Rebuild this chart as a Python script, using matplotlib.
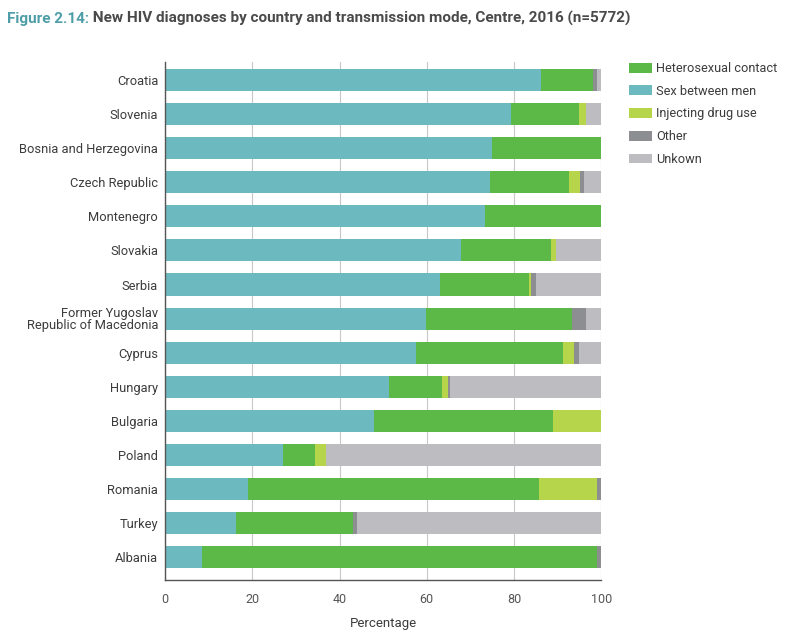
import matplotlib
matplotlib.use("Agg")
import matplotlib.pyplot as plt
import numpy as np

plt.rcParams['font.family'] = ['Roboto', 'DejaVu Sans']

countries = ["Croatia", "Slovenia", "Bosnia and Herzegovina", "Czech Republic", "Montenegro",
             "Slovakia", "Serbia", "Former Yugoslav\nRepublic of Macedonia", "Cyprus", "Hungary",
             "Bulgaria", "Poland", "Romania", "Turkey", "Albania"]
sex_between_men = [86.1, 79.3, 74.9, 74.5, 73.3, 67.8, 63.1, 59.8, 57.5, 51.3, 47.8, 27.1, 18.9, 16.3, 8.4]
heterosexual =    [12.0, 15.5, 25.1, 18.1, 26.7, 20.6, 20.3, 33.6, 33.8, 12.1, 41.1, 7.2, 66.8, 26.7, 90.6]
injecting =       [0.0, 1.7, 0.0, 2.6, 0.0, 1.3, 0.4, 0.0, 2.5, 1.4, 11.1, 2.5, 13.3, 0.2, 0.0]
other =           [0.9, 0.0, 0.0, 0.9, 0.0, 0.0, 1.3, 3.1, 1.1, 0.5, 0.0, 0.0, 1.0, 0.9, 1.0]
unknown =         [1.0, 3.5, 0.0, 3.9, 0.0, 10.3, 14.9, 3.5, 5.1, 34.7, 0.0, 63.2, 0.0, 55.9, 0.0]

series = [("Sex between men", sex_between_men, "#6cb9c0"),
          ("Heterosexual contact", heterosexual, "#5db947"),
          ("Injecting drug use", injecting, "#b7d54b"),
          ("Other", other, "#8d8e91"),
          ("Unkown", unknown, "#bdbdc1")]

fig = plt.figure(figsize=(7.9, 6.32), dpi=100)
ax = fig.add_axes([0.209, 0.082, 0.552, 0.820])

y = np.arange(len(countries))
left = np.zeros(len(countries))
handles = {}
for name, vals, col in series:
    vals = np.array(vals)
    b = ax.barh(y, vals, left=left, height=0.65, color=col, label=name, zorder=2)
    handles[name] = b
    left += vals

ax.set_ylim(len(countries) - 1 + 0.675, -0.53)
ax.set_xlim(0, 100)
ax.set_yticks(y)
ax.set_yticklabels(countries, fontsize=9.3, color="#3c3c3c", linespacing=0.9)
ax.set_xticks([0, 20, 40, 60, 80, 100])
ax.set_xticklabels(["0", "20", "40", "60", "80", "100"], fontsize=9, color="#555555")
ax.tick_params(axis='y', length=0, pad=5)
ax.tick_params(axis='x', length=0, pad=9)
ax.grid(axis='x', color="#c8c8c8", linewidth=0.8, zorder=0)
ax.set_axisbelow(True)
for s in ["top", "right"]:
    ax.spines[s].set_visible(False)
for s in ["left", "bottom"]:
    ax.spines[s].set_color("#555555")
    ax.spines[s].set_linewidth(1.0)
ax.set_xlabel("Percentage", fontsize=9.5, color="#3c3c3c", labelpad=8)

order = ["Heterosexual contact", "Sex between men", "Injecting drug use", "Other", "Unkown"]
leg = fig.legend([handles[n] for n in order], order, loc="upper left",
                 bbox_to_anchor=(0.782, 0.92), frameon=False, fontsize=9.2,
                 handlelength=1.75, handleheight=0.8, handletextpad=0.35, labelspacing=0.76)
for t in leg.get_texts():
    t.set_color("#3c3c3c")

t1 = fig.text(0.009, 0.963, "Figure 2.14:", fontsize=11, fontweight="bold", color="#4e9ea8", va="baseline")
ax.annotate(" New HIV diagnoses by country and transmission mode, Centre, 2016 (n=5772)",
            xy=(1, 0), xycoords=t1, va="bottom", ha="left",
            fontsize=11, fontweight="bold", color="#4a4a4a", annotation_clip=False)

fig.savefig("out.png", dpi=100)
